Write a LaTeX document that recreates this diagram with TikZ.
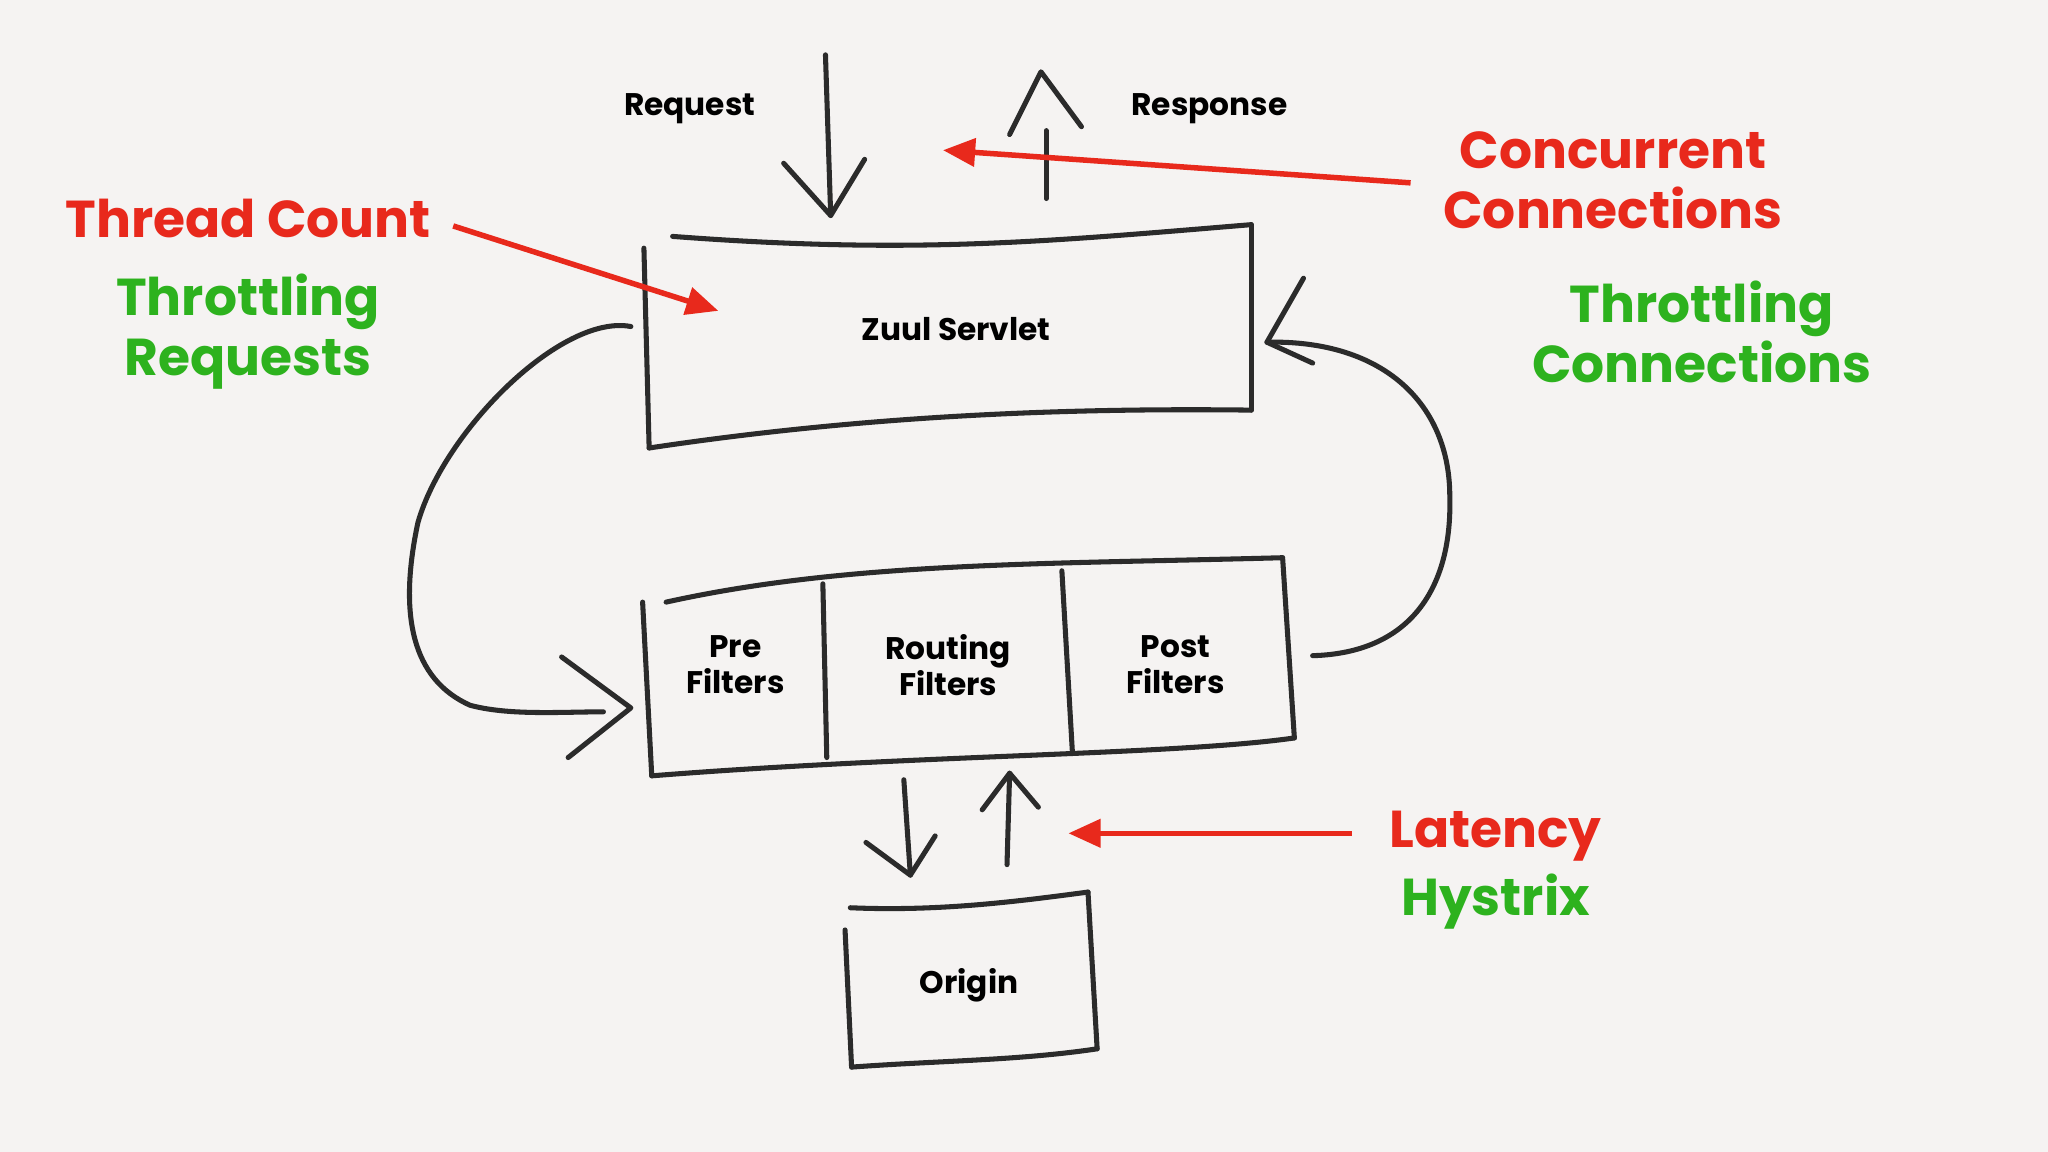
\documentclass[tikz,border=0pt]{standalone}
\usepackage{fontspec}
\setmainfont{Poppins}
\usetikzlibrary{arrows.meta}
\definecolor{bg}{HTML}{F5F3F2}
\definecolor{rd}{HTML}{E8291C}
\definecolor{gr}{HTML}{2DB21E}
\definecolor{ink}{HTML}{2B2B2B}
\begin{document}
\begin{tikzpicture}[x={(0.01cm,0)},y={(0,-0.01cm)},
  sk/.style={draw=ink,line width=1.1pt,line cap=round,line join=round},
  rarr/.style={draw=rd,line width=1.2pt,-{Triangle[length=7pt,width=6pt]}},
  lbl/.style={font=\fontsize{6.8}{7.8}\selectfont\bfseries,align=center,text=black},
  big/.style={font=\fontsize{11.3}{13}\selectfont\bfseries,align=center}]
\fill[bg] (0,0) rectangle (1568,882);
\useasboundingbox (0,0) rectangle (1568,882);
% Zuul box
\draw[sk] (515,181) .. controls (700,195) and (800,185) .. (958,172);
\draw[sk] (958,172) -- (958,314);
\draw[sk] (958,314) .. controls (800,312) and (650,320) .. (497,343);
\draw[sk] (493,190) -- (497,343);
% filters box
\draw[sk] (510,461) .. controls (650,430) and (800,432) .. (982,427);
\draw[sk] (982,427) -- (991,565);
\draw[sk] (991,565) .. controls (900,578) and (700,578) .. (499,594);
\draw[sk] (492,461) -- (499,594);
\draw[sk] (630,447) -- (633,580);
\draw[sk] (813,437) -- (821,575);
% origin
\draw[sk] (651,695) .. controls (720,698) and (780,690) .. (833,683);
\draw[sk] (833,683) -- (840,803);
\draw[sk] (840,803) .. controls (780,812) and (720,812) .. (652,817);
\draw[sk] (647,712) -- (652,817);
% request / response
\coordinate (rqA) at (632,42); \coordinate (rqB) at (636,165);
\draw[sk] (rqA) -- (rqB);
\draw[sk] (600,125) -- (rqB) -- (662,122);
\coordinate (rsA) at (801,152); \coordinate (rsB) at (797,55);
\draw[sk] (rsA) -- (801,100);
\draw[sk] (773,103) -- (rsB) -- (828,97);
% left loop
\coordinate (lA) at (483,250); \coordinate (lB) at (483,542);
\draw[sk] (lA) .. controls (430,240) and (340,330) .. (320,400)
  .. controls (305,470) and (315,520) .. (360,540) .. controls (390,548) and (430,545) .. (462,545);
\draw[sk] (430,503) -- (lB) -- (435,580);
% right loop
\coordinate (rA) at (1005,502); \coordinate (rB) at (970,262);
\draw[sk] (1005,502) .. controls (1080,500) and (1112,450) .. (1110,380)
  .. controls (1110,310) and (1060,260) .. (rB);
\draw[sk] (998,213) -- (rB) -- (1005,278);
% small arrows
\coordinate (dB) at (697,670);
\draw[sk] (692,597) -- (dB);
\draw[sk] (663,645) -- (dB) -- (716,640);
\coordinate (uB) at (773,592);
\draw[sk] (771,662) -- (uB);
\draw[sk] (752,620) -- (uB) -- (795,618);
% labels
\node[lbl] (req) at (528,83) {Request};
\node[lbl] (resp) at (926,83) {Response};
\node[lbl] (zuul) at (732,252) {Zuul Servlet};
\node[lbl] (pre) at (563,509) {Pre\\Filters};
\node[lbl] (rout) at (726,509) {Routing\\Filters};
\node[lbl] (post) at (900,509) {Post\\Filters};
\node[lbl] (orig) at (742,754) {Origin};
\node[big,text=rd] (tc) at (190,167) {Thread Count};
\node[big,text=gr] (tr) at (190,254) {Throttling\\Requests};
\node[big,text=rd] (cc) at (1235,138) {Concurrent\\Connections};
\node[big,text=gr] (tcn) at (1303,254) {Throttling\\Connections};
\node[big,text=rd] (lat) at (1145,640) {Latency};
\node[big,text=gr] (hy) at (1145,690) {Hystrix};
% red arrows
\coordinate (t1) at (550,238); \coordinate (c1) at (722,115); \coordinate (l1) at (818,638);
\draw[rarr] (347,173) -- (t1);
\draw[rarr] (1080,140) -- (c1);
\draw[rarr] (1035,638) -- (l1);
\end{tikzpicture}
\end{document}
